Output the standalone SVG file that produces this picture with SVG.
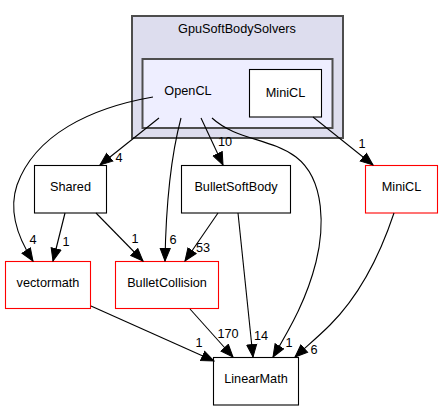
<svg xmlns="http://www.w3.org/2000/svg" width="443" height="411" viewBox="0 0 443 411">
<defs>
<style>
text{font-family:"Liberation Sans",Arial,sans-serif;font-size:12.7px;fill:#000;text-anchor:middle}
.node{fill:#fff;stroke:#000;stroke-width:1.1}
.red{fill:#fff;stroke:#ff0000;stroke-width:1.1}
.edge{fill:none;stroke:#000;stroke-width:1.1;marker-end:url(#ah)}
</style>
<marker id="ah" markerUnits="userSpaceOnUse" markerWidth="14" markerHeight="12" refX="13" refY="6" orient="auto">
<path d="M0.5,1 L13,6 L0.5,11 z" fill="#000" stroke="#000" stroke-width="1"/>
</marker>
</defs>
<rect width="443" height="411" fill="#fff"/>
<g id="cluster_GpuSoftBodySolvers">
<rect x="132" y="16" width="211" height="122" fill="#ddddee" stroke="#4d4d4d" stroke-width="2"/>
<text x="237" y="33">GpuSoftBodySolvers</text>
</g>
<g id="cluster_OpenCL">
<rect x="142.5" y="59" width="190" height="69" fill="#eeeeff" stroke="#4d4d4d" stroke-width="2"/>
<text x="188" y="95">OpenCL</text>
</g>
<g id="node_MiniCL_inner">
<rect class="node" x="249.5" y="69.5" width="72" height="47.5"/>
<text x="285.5" y="97">MiniCL</text>
</g>
<g id="node_Shared">
<rect class="node" x="34.5" y="165.5" width="72" height="47.5"/>
<text x="70.5" y="191">Shared</text>
</g>
<g id="node_BulletSoftBody">
<rect class="node" x="181.5" y="165.5" width="109" height="47.5"/>
<text x="236" y="191">BulletSoftBody</text>
</g>
<g id="node_MiniCL">
<rect class="red" x="365.5" y="165.5" width="72" height="47.5"/>
<text x="401.5" y="191">MiniCL</text>
</g>
<g id="node_vectormath">
<rect class="red" x="5.5" y="261.5" width="85" height="47"/>
<text x="48" y="287">vectormath</text>
</g>
<g id="node_BulletCollision">
<rect class="red" x="115.5" y="261.5" width="103" height="47"/>
<text x="167" y="287">BulletCollision</text>
</g>
<g id="node_LinearMath">
<rect class="node" x="213.5" y="357.5" width="85" height="47.5"/>
<text x="256" y="383">LinearMath</text>
</g>
<g id="edges">
<path class="edge" d="M153,97 C90,108 35,135 17,185 C8,212 18,238 33,261"/>
<text x="33" y="244">4</text>
<path class="edge" d="M159,118 L100,165"/>
<text x="119" y="162">4</text>
<path class="edge" d="M181,118 C172,152 166,200 165,261"/>
<text x="173" y="244">6</text>
<path class="edge" d="M201,118 L223,165"/>
<text x="225" y="146">10</text>
<path class="edge" d="M212,118 C236,140 270,138 296,157 C326,180 324,230 316,262 C307,298 292,325 273,357"/>
<text x="289" y="347">1</text>
<path class="edge" d="M313,117 L373,165"/>
<text x="362" y="148">1</text>
<path class="edge" d="M65,213 L53,261"/>
<text x="66" y="246">1</text>
<path class="edge" d="M96,213 L143,261"/>
<text x="135" y="243">1</text>
<path class="edge" d="M218,213 L185,261"/>
<text x="203" y="252">53</text>
<path class="edge" d="M238,213 L253,357"/>
<text x="261" y="340">14</text>
<path class="edge" d="M394,213 C380,255 360,295 330,325 C318,337 307,346 295,357"/>
<text x="314" y="354">6</text>
<path class="edge" d="M91,306 L214,361"/>
<text x="199" y="347">1</text>
<path class="edge" d="M190,309 L233,357"/>
<text x="228" y="338">170</text>
</g>
</svg>
